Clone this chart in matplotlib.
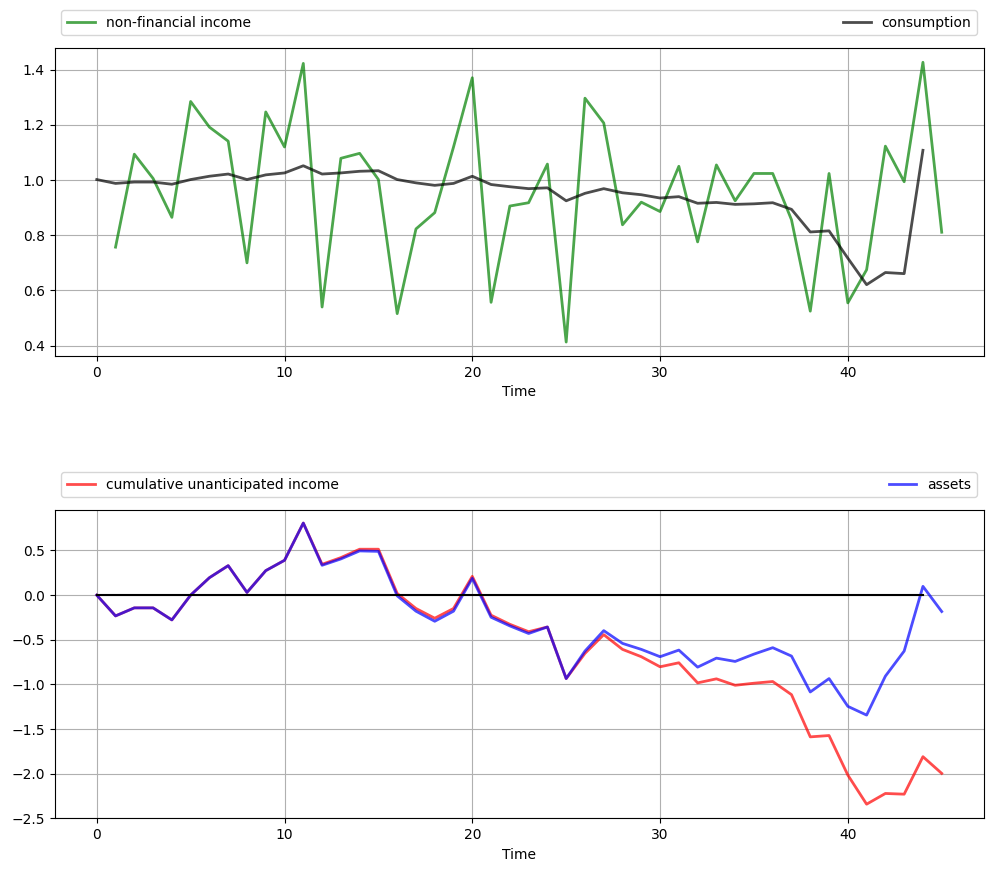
import matplotlib
matplotlib.use("Agg")
import matplotlib.pyplot as plt
import numpy as np

# non-financial income, t = 1..45
income = [0.757, 1.094, 1.006, 0.865, 1.285, 1.192, 1.141, 0.70, 1.247, 1.12,
          1.423, 0.54, 1.079, 1.097, 1.002, 0.516, 0.823, 0.882, 1.12, 1.371,
          0.557, 0.906, 0.918, 1.058, 0.413, 1.297, 1.207, 0.838, 0.92, 0.886,
          1.05, 0.776, 1.055, 0.925, 1.024, 1.024, 0.856, 0.525, 1.024, 0.555,
          0.675, 1.123, 0.994, 1.427, 0.811]

# consumption, t = 0..44
consumption = [1.002, 0.988, 0.993, 0.993, 0.985, 1.002, 1.014, 1.022, 1.002, 1.019,
               1.026, 1.052, 1.022, 1.026, 1.032, 1.034, 1.002, 0.990, 0.981, 0.988,
               1.014, 0.984, 0.976, 0.969, 0.972, 0.925, 0.952, 0.969, 0.954, 0.947,
               0.935, 0.940, 0.916, 0.919, 0.912, 0.914, 0.918, 0.894, 0.812, 0.816,
               0.717, 0.621, 0.665, 0.661, 1.108]

# cumulative unanticipated income, t = 0..45
cum_income = [0.0, -0.233, -0.143, -0.143, -0.278, 0.0, 0.195, 0.33, 0.03, 0.274,
              0.39, 0.807, 0.345, 0.42, 0.514, 0.514, 0.019, -0.15, -0.259, -0.15,
              0.21, -0.225, -0.327, -0.41, -0.357, -0.935, -0.653, -0.443, -0.608, -0.69,
              -0.803, -0.758, -0.983, -0.938, -1.01, -0.987, -0.968, -1.115, -1.588, -1.573,
              -2.016, -2.342, -2.222, -2.23, -1.81, -1.997]

# assets, t = 0..45
assets = [0.0, -0.233, -0.143, -0.143, -0.278, 0.0, 0.195, 0.33, 0.03, 0.274,
          0.39, 0.807, 0.334, 0.405, 0.495, 0.49, -0.008, -0.18, -0.293, -0.18,
          0.188, -0.248, -0.345, -0.43, -0.357, -0.935, -0.627, -0.398, -0.541, -0.608,
          -0.69, -0.616, -0.807, -0.706, -0.743, -0.661, -0.589, -0.683, -1.085, -0.935,
          -1.246, -1.344, -0.908, -0.627, 0.098, -0.184]

T = len(consumption)

fig = plt.figure(figsize=(9.93, 8.72), dpi=100)
ax1 = fig.add_axes([0.0549, 0.5917, 0.936, 0.3529])
ax2 = fig.add_axes([0.0549, 0.0616, 0.936, 0.3532])

ax1.plot(range(1, T + 1), income, 'g-', lw=2, alpha=0.7, label="non-financial income")
ax1.plot(range(T), consumption, 'k-', lw=2, alpha=0.7, label="consumption")

ax2.plot(range(T + 1), cum_income, 'r-', lw=2, alpha=0.7, label="cumulative unanticipated income")
ax2.plot(range(T + 1), assets, 'b-', lw=2, alpha=0.7, label="assets")
ax2.plot(range(T), np.zeros(T), 'k-')

for ax in (ax1, ax2):
    ax.grid()
    ax.set_xlabel("Time")
    ax.legend(ncol=2, bbox_to_anchor=(0., 1.02, 1., .102), loc=3, mode="expand")

ax2.set_ylim(-2.5, 0.95)

fig.savefig("out.png", dpi=100)
